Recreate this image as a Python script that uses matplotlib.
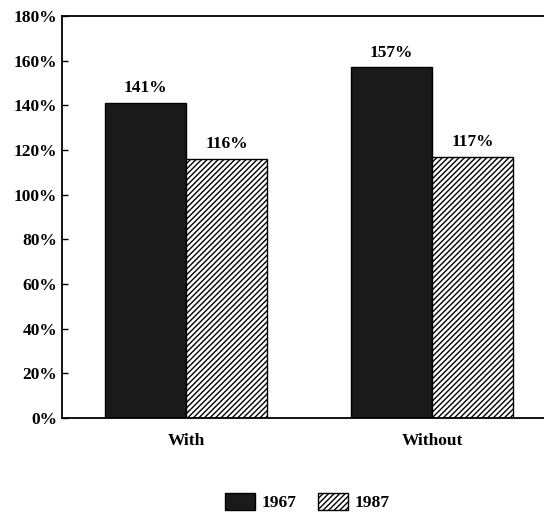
import numpy as np
import matplotlib.pyplot as plt
from matplotlib.ticker import FuncFormatter

groups = ["With", "Without"]
years = ["1967", "1987"]
vals_1967 = [141, 157]
vals_1987 = [116, 117]

plt.rcParams["font.family"] = ["Liberation Serif", "DejaVu Serif"]
plt.rcParams["font.weight"] = "bold"
plt.rcParams["hatch.linewidth"] = 1.0

fig = plt.figure(figsize=(5.44, 5.16), dpi=100)
ax = fig.add_axes([0.114, 0.19, 0.886, 0.779])

x = np.arange(len(groups))
w = 0.33
b1 = ax.bar(x - w / 2, vals_1967, w, color="#1a1a1a", edgecolor="black", linewidth=1, label=years[0])
b2 = ax.bar(x + w / 2, vals_1987, w, color="white", edgecolor="black", hatch="//////", linewidth=1, label=years[1])

for bars in (b1, b2):
    for r in bars:
        ax.text(r.get_x() + r.get_width() / 2, r.get_height() + 3, f"{int(r.get_height())}%",
                ha="center", va="bottom", fontsize=12.5, fontweight="bold")

ax.set_ylim(0, 180)
ax.set_xlim(-0.504, 1.455)
ax.set_yticks(np.arange(0, 181, 20))
ax.yaxis.set_major_formatter(FuncFormatter(lambda v, p: f"{int(v)}%"))
ax.set_xticks(x)
ax.set_xticklabels(groups)
ax.tick_params(axis="y", direction="in", length=4, labelsize=12.5, width=1)
ax.tick_params(axis="x", length=0, labelsize=12.5, pad=11)
ax.spines["right"].set_visible(False)
for s in ("left", "top", "bottom"):
    ax.spines[s].set_linewidth(1.3)

fig.legend(handles=[b1, b2], loc="center", bbox_to_anchor=(0.565, 0.027), ncol=2, frameon=False,
           fontsize=12.5, handlelength=1.75, handleheight=1.2, columnspacing=1.2, handletextpad=0.4)

plt.savefig("out.png", dpi=100)
